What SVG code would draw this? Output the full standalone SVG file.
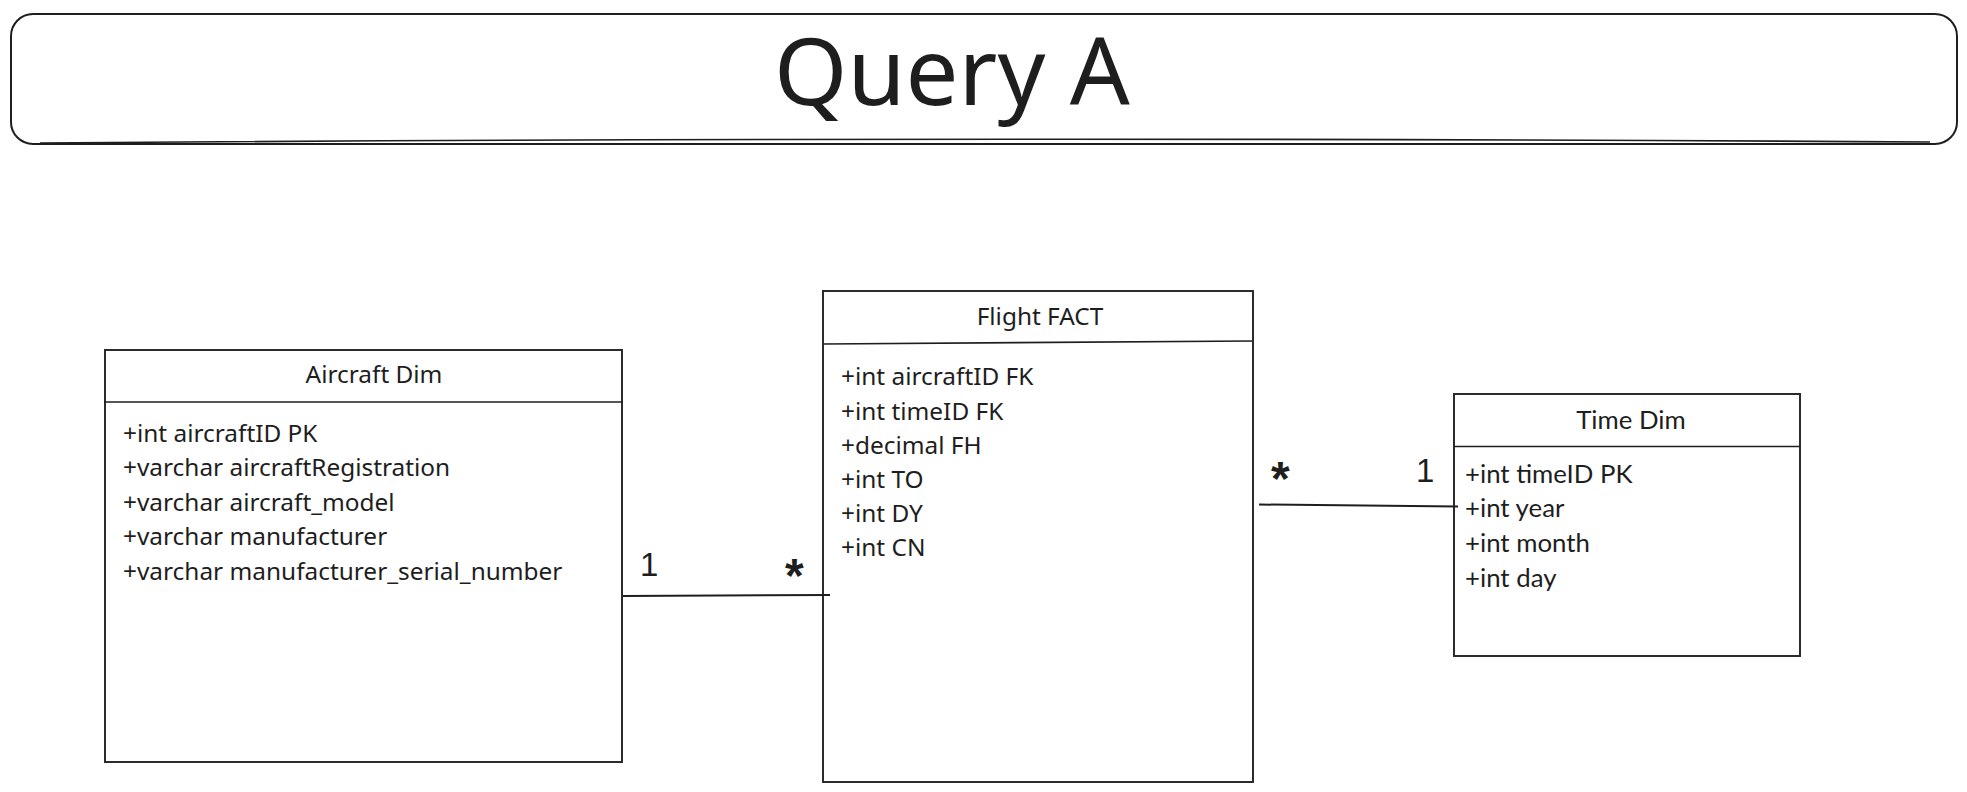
<svg xmlns="http://www.w3.org/2000/svg" width="1967" height="792" viewBox="0 0 1967 792">
<style>
.box{fill:#fff;stroke:#2b2b2b;stroke-width:2}
.div{stroke:#1e1e1e;stroke-width:1.6;fill:none}
.t{font-family:"Noto Sans","Open Sans",sans-serif;font-size:24.4px;fill:#1e1e1e}
.tl{font-family:Lato,"Noto Sans",sans-serif;font-size:25.8px;fill:#1e1e1e}
.h{text-anchor:middle}
.conn{stroke:#1e1e1e;stroke-width:2;fill:none}
.lbl{font-family:"Liberation Sans",Arial,sans-serif;font-size:33px;fill:#1e1e1e}
.ast{font-family:"Liberation Sans",Arial,sans-serif;font-size:48px;font-weight:bold;fill:#1e1e1e}
</style>
<rect width="1967" height="792" fill="#fff"/>
<g id="title">
<rect x="11" y="14" width="1946" height="130" rx="22" fill="#fff" stroke="#1e1e1e" stroke-width="2"/>
<path d="M 40 143 Q 980 136 1930 142" stroke="#1e1e1e" stroke-width="1.6" fill="none"/>
<text x="952" y="105" text-anchor="middle" font-family="'Noto Sans','Open Sans',sans-serif" font-size="94" fill="#1e1e1e">Query A</text>
</g>
<g id="aircraft-dim">
<rect class="box" x="105" y="350" width="517" height="412"/>
<line class="div" x1="104" y1="402" x2="623" y2="402"/>
<text class="t h" x="374" y="383" font-size="25">Aircraft Dim</text>
<text class="t" x="123" y="441.5">+int aircraftID PK</text>
<text class="t" x="123" y="476.2">+varchar aircraftRegistration</text>
<text class="t" x="123" y="510.8">+varchar aircraft_model</text>
<text class="t" x="123" y="545.4">+varchar manufacturer</text>
<text class="t" x="123" y="580">+varchar manufacturer_serial_number</text>
</g>
<g id="flight-fact">
<rect class="box" x="823" y="291" width="430" height="491"/>
<path class="div" d="M 824 344 L 1252 341"/>
<text class="t h" x="1040" y="325" font-size="26.5">Flight FACT</text>
<text class="t" x="841" y="385">+int aircraftID FK</text>
<text class="t" x="841" y="419.5">+int timeID FK</text>
<text class="t" x="841" y="454">+decimal FH</text>
<text class="t" x="841" y="488">+int TO</text>
<text class="t" x="841" y="522">+int DY</text>
<text class="t" x="841" y="556">+int CN</text>
</g>
<g id="time-dim">
<rect class="box" x="1454" y="394" width="346" height="262"/>
<line class="div" x1="1454" y1="446.5" x2="1800" y2="446.5"/>
<text class="tl h" x="1631" y="429" font-size="27.5">Time Dim</text>
<text class="tl" x="1465" y="482.7">+int timeID PK</text>
<text class="tl" x="1465" y="517.3">+int year</text>
<text class="tl" x="1465" y="551.9">+int month</text>
<text class="tl" x="1465" y="586.5">+int day</text>
</g>
<g id="connectors">
<path class="conn" d="M 623 596 L 830 595"/>
<path class="conn" d="M 1259 504.5 L 1458 506.5"/>
<text class="lbl" x="640" y="576">1</text>
<text class="ast" x="785" y="592">*</text>
<text class="ast" x="1271" y="495">*</text>
<text class="lbl" x="1416" y="482">1</text>
</g>
</svg>
